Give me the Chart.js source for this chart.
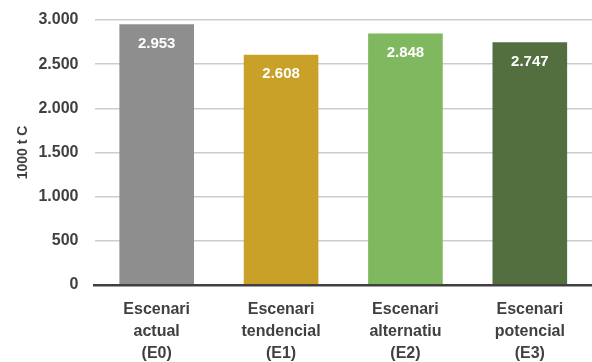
<!DOCTYPE html>
<html>
<head>
<meta charset="utf-8">
<script src="https://cdn.jsdelivr.net/npm/chart.js@4"></script>
<style>
  html, body { margin: 0; padding: 0; background: #fff; }
  #wrap { width: 592px; height: 362px; }
</style>
</head>
<body>
<div id="wrap"><canvas id="myChart"></canvas></div>
<script>
const escenaris = [
    ['Escenari', 'actual', '(E0)'],
    ['Escenari', 'tendencial', '(E1)'],
    ['Escenari', 'alternatiu', '(E2)'],
    ['Escenari', 'potencial', '(E3)']
];
const carboni = [2953, 2608, 2848, 2747];
const colors = ['#8e8e8e', '#c9a128', '#80b85f', '#536f40'];
const yTicks = [0, 500, 1000, 1500, 2000, 2500, 3000];

// punt com a separador de milers
function fmt(v) {
    return String(v).replace(/\B(?=(\d{3})+(?!\d))/g, '.');
}

// valors en blanc dins de cada barra
const valueLabels = {
    id: 'valueLabels',
    afterDatasetsDraw(chart) {
        const c = chart.ctx;
        const meta = chart.getDatasetMeta(0);
        c.save();
        c.fillStyle = '#ffffff';
        c.font = 'bold 15px "Liberation Sans", Arial, sans-serif';
        c.textAlign = 'center';
        c.textBaseline = 'middle';
        meta.data.forEach((bar, i) => {
            c.fillText(fmt(carboni[i]), bar.x, bar.y + 19.5);
        });
        c.restore();
    }
};

const ctx = document.getElementById('myChart').getContext('2d');
const font = { family: '"Liberation Sans", Arial, sans-serif', size: 16, weight: 'bold' };

const myChart = new Chart(ctx, {
    type: 'bar',
    data: {
        labels: escenaris,
        datasets: [{
            data: carboni,
            backgroundColor: colors,
            barPercentage: 0.6,
            categoryPercentage: 1
        }]
    },
    options: {
        responsive: true,
        maintainAspectRatio: false,
        animation: false,
        layout: { padding: { top: 20, right: 0, left: 0, bottom: 0 } },
        plugins: {
            legend: { display: false },
            tooltip: { enabled: false }
        },
        scales: {
            x: {
                grid: { display: false, drawTicks: false },
                border: { display: true, color: '#404040', width: 2.5, z: 2 },
                ticks: {
                    color: '#404040',
                    font: { ...font, lineHeight: 1.375 },
                    padding: 14,
                    maxRotation: 0
                },
                afterFit(scale) { scale.height = 77; }
            },
            y: {
                min: 0,
                max: 3000,
                z: 1,
                afterBuildTicks(scale) {
                    scale.ticks = yTicks.map(v => ({ value: v }));
                },
                // marques invisibles: separen les etiquetes de la graella
                grid: {
                    color: 'rgba(0,0,0,0.2)',
                    lineWidth: 1.5,
                    drawTicks: true,
                    tickLength: 16,
                    tickColor: 'rgba(0,0,0,0)'
                },
                border: { display: false },
                ticks: {
                    color: '#404040',
                    font: font,
                    padding: 0,
                    callback: v => fmt(v)
                },
                title: {
                    display: true,
                    text: '1000 t C',
                    color: '#404040',
                    font: { family: '"Liberation Sans", Arial, sans-serif', size: 14, weight: 'bold' },
                    padding: { top: 15, bottom: 0 }
                },
                afterFit(scale) { scale.width = 94.5; }
            }
        }
    },
    plugins: [valueLabels]
});
</script>
</body>
</html>
